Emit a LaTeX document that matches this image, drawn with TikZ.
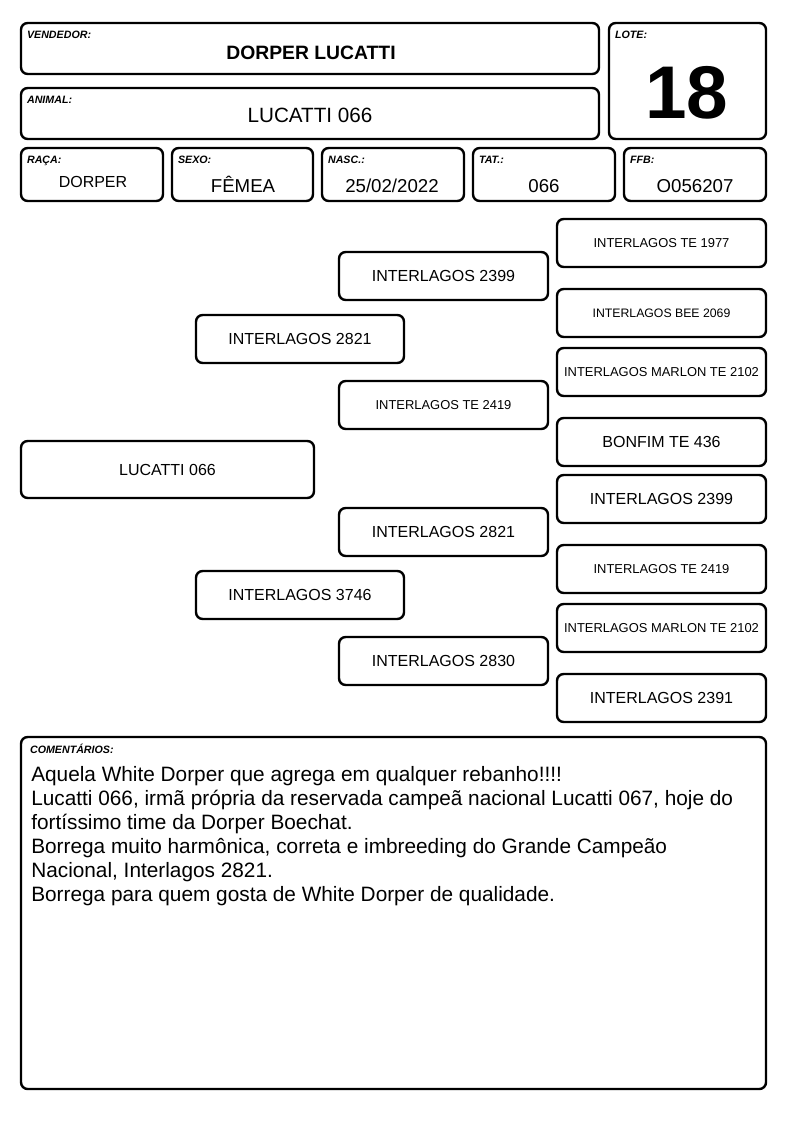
\documentclass[tikz,border=0pt]{standalone}
\usepackage{fontspec}
\setmainfont{Liberation Sans}

\newcommand{\pgrande}{\fontsize{12}{14}\selectfont}
\newcommand{\ppequeno}{\fontsize{9.7}{11}\selectfont}
\newcommand{\pmenor}{\fontsize{9.2}{11}\selectfont}
\newcommand{\vmedio}{\fontsize{14}{16}\selectfont}

\begin{document}
\begin{tikzpicture}[x=0.75pt, y=-0.75pt,
        caixa/.style={draw, line width=1.8pt, rounded corners=5pt, inner sep=0pt},
        rotulo/.style={anchor=base west, inner sep=0pt, font=\fontsize{8}{9}\selectfont\bfseries\itshape},
        valor/.style={anchor=base, inner sep=0pt}]
        \useasboundingbox (0,0) rectangle (794,1123);
        \foreach \xa/\ya/\xb/\yb/\nome in {21/23/599/74/vend, 21/88/599/139/anim, 609/23/766/139/lote,
                21/148/163/201/raca, 172/148/313/201/sexo, 322/148/464/201/nasc,
                473/148/615/201/tat, 624/148/766/201/ffb, 21/737/766/1089/coment} {
                \node[caixa, minimum width={(\xb-\xa)*0.75pt}, minimum height={(\yb-\ya)*0.75pt}]
                    (\nome) at ({(\xa+\xb)/2},{(\ya+\yb)/2}) {};
            }
        \foreach \nome/\texto in {vend/VENDEDOR:, anim/ANIMAL:, lote/LOTE:, raca/RAÇA:,
                sexo/SEXO:, nasc/NASC.:, tat/TAT.:, ffb/FFB:} {
                \node[rotulo] (r-\nome) at ([shift={(7,17)}]\nome.north west) {\texto};
            }
        \node[rotulo] (r-coment) at ([shift={(10,18)}]coment.north west) {COMENTÁRIOS:};

        \node[valor, font=\fontsize{14.5}{16}\selectfont\bfseries] (v-vend) at (311,60) {DORPER LUCATTI};
        \node[valor, font=\fontsize{15.5}{17}\selectfont] (v-anim) at (310,123) {LUCATTI 066};
        \node[valor, font=\fontsize{56}{60}\selectfont\bfseries] (v-lote) at (687,119) {18};
        \node[valor, font=\fontsize{12}{14}\selectfont] (v-raca) at (93,188) {DORPER};
        \foreach \x/\nome/\texto in {243/sexo/FÊMEA, 392/nasc/{25/02/2022}, 544/tat/066, 695/ffb/O056207} {
                \node[valor, font=\vmedio] (v-\nome) at (\x,193) {\texto};
            }

        \foreach \xa/\ya/\xb/\yb/\nome/\texto/\fonte in {
                21/441/314/498/p0/LUCATTI 066/\pgrande,
                196/315/404/363/pai/INTERLAGOS 2821/\pgrande,
                196/571/404/619/mae/INTERLAGOS 3746/\pgrande,
                339/252/548/300/avo1/INTERLAGOS 2399/\pgrande,
                339/381/548/429/avo2/INTERLAGOS TE 2419/\ppequeno,
                339/508/548/556/avo3/INTERLAGOS 2821/\pgrande,
                339/637/548/685/avo4/INTERLAGOS 2830/\pgrande,
                557/219/766/267/bis1/INTERLAGOS TE 1977/\ppequeno,
                557/289/766/337/bis2/INTERLAGOS BEE 2069/\pmenor,
                557/348/766/396/bis3/INTERLAGOS MARLON TE 2102/\ppequeno,
                557/418/766/466/bis4/BONFIM TE 436/\pgrande,
                557/475/766/523/bis5/INTERLAGOS 2399/\pgrande,
                557/545/766/593/bis6/INTERLAGOS TE 2419/\ppequeno,
                557/604/766/652/bis7/INTERLAGOS MARLON TE 2102/\ppequeno,
                557/674/766/722/bis8/INTERLAGOS 2391/\pgrande} {
                \node[caixa, font=\fonte, minimum width={(\xb-\xa)*0.75pt}, minimum height={(\yb-\ya)*0.75pt}]
                    (\nome) at ({(\xa+\xb)/2},{(\ya+\yb)/2}) {\texto};
            }

        \node[anchor=north west, inner sep=0pt, align=left, font=\fontsize{15.6}{18}\selectfont] (texto)
            at (31,766) {Aquela White Dorper que agrega em qualquer rebanho!!!!\\
                Lucatti 066, irmã própria da reservada campeã nacional Lucatti 067, hoje do\\
                fortíssimo time da Dorper Boechat.\\
                Borrega muito harmônica, correta e imbreeding do Grande Campeão\\
                Nacional, Interlagos 2821.\\
                Borrega para quem gosta de White Dorper de qualidade.};
    \end{tikzpicture}
\end{document}
